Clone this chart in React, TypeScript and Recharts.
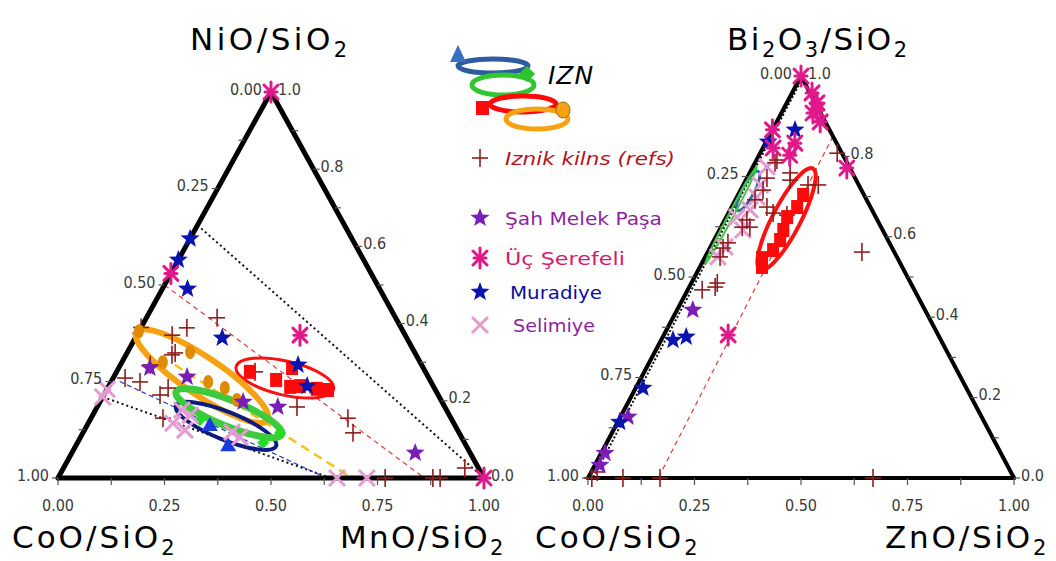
import React from "react";
import { ScatterChart, Scatter, XAxis, YAxis, ReferenceLine } from "recharts";

type T = [number, number];

// ---------- NiO / CoO / MnO triangle, points as [MnO, NiO] (CoO = 1 - both)
const nKilns: T[] = [
  [0.0, 0.39], [0.083, 0.37], [0.108, 0.389], [0.166, 0.415], [0.108, 0.319], [0.113, 0.324],
  [0.07, 0.293], [0.028, 0.259], [0.068, 0.249], [0.132, 0.215], [0.142, 0.233], [0.169, 0.155],
  [0.325, 0.275], [0.469, 0.184], [0.603, 0.155], [0.634, 0.117], [0.942, 0.026],
  [0.768, 0], [0.88, 0], [0.897, 0],
];
const nSah: T[] = [[0.073, 0.285], [0.172, 0.262], [0.336, 0.197], [0.424, 0.184], [0.806, 0.065]];
const nUc: T[] = [[0, 1], [0, 0.53], [0.383, 0.37], [1, 0]];
const nMuradiye: T[] = [[0, 0.62], [0, 0.565], [0.059, 0.49], [0.204, 0.363], [0.417, 0.293], [0.466, 0.238]];
const nSelimiye: T[] = [
  [0, 0.21], [0, 0.23], [0.199, 0.142], [0.236, 0.124], [0.203, 0.176], [0.229, 0.163],
  [0.349, 0.119], [0.374, 0.106], [0.655, 0], [0.725, 0],
];
const nIznRed: T[] = [[0.313, 0.275], [0.385, 0.254], [0.427, 0.236], [0.449, 0.238], [0.492, 0.231], [0.52, 0.228], [0.407, 0.285]];
const nIznOrange: T[] = [[0.0, 0.38], [0.096, 0.3], [0.147, 0.326], [0.228, 0.249], [0.275, 0.233], [0.319, 0.202]];
const nIznBlue: T[] = [[0.288, 0.137], [0.357, 0.085]];
const nIznGreen: T[] = [[0.258, 0.15], [0.436, 0.091], [0.463, 0.117]];
// group ellipse centres: red, orange, blue, green
const nRingCentres: T[] = [[0.403, 0.259], [0.206, 0.264], [0.327, 0.135], [0.317, 0.168]];
// trend lines: dotted, dotted, red dash, blue dash, yellow dash
const nGuides: [T, T][] = [
  [[0, 0.655], [1, 0]],
  [[0, 0.21], [0.64, 0]],
  [[0, 0.5], [0.86, 0]],
  [[0.02, 0.25], [0.63, 0]],
  [[0.128, 0.293], [0.69, 0]],
];

// ---------- Bi2O3 / CoO / ZnO triangle, points as [ZnO, Bi2O3]
const bKilns: T[] = [
  [0.047, 0.784], [0.104, 0.741], [0.176, 0.729], [0.053, 0.716], [0.083, 0.674], [0.046, 0.692],
  [0.052, 0.642], [0.05, 0.624], [0.068, 0.624], [0.036, 0.585], [0.031, 0.572], [0.061, 0.485],
  [0.034, 0.468], [0.061, 0.475], [0.14, 0.654], [0.105, 0.659], [0.095, 0.759], [0.152, 0.729],
  [0.047, 0.746], [0.035, 0.55], [0.181, 0.808], [0.362, 0.562], [0.014, 0.015], [0.048, 0.791],
  [0.009, 0], [0.082, 0], [0.169, 0], [0.669, 0],
];
const bSah: T[] = [[0.037, 0.418], [0.018, 0.152], [0.009, 0.062], [0.012, 0.032]];
const bUc: T[] = [
  [0, 1], [0.047, 0.958], [0.071, 0.933], [0.074, 0.908], [0.102, 0.886], [0.08, 0.915],
  [0, 0.866], [0.024, 0.821], [0.072, 0.803], [0.069, 0.833], [0.222, 0.771], [0.151, 0.356],
];
const bMuradiye: T[] = [[0.053, 0.866], [0.005, 0.836], [0.028, 0.343], [0.055, 0.351], [0.017, 0.224], [0.005, 0.139]];
const bSelimiye: T[] = [
  [0.025, 0.649], [0.047, 0.667], [0.055, 0.617], [0.034, 0.575], [0.03, 0.55], [0.04, 0.729],
  [0.047, 0.699], [0.033, 0.774],
];
const bIznRed: T[] = [[0.153, 0.704], [0.154, 0.674], [0.143, 0.649], [0.15, 0.617], [0.155, 0.592], [0.151, 0.567], [0.135, 0.547], [0.146, 0.525]];
// red, blue, green
const bRingCentres: T[] = [[0.144, 0.644], [0.019, 0.714], [0.009, 0.654]];
const bGuides: [T, T][] = [
  [[0.006, 0.985], [0.012, 0]],
  [[0.003, 0.99], [0.005, 0]],
  [[0.15, 0.85], [0.165, 0]],
];

// axis ticks
const edgeTicks = [0, 0.125, 0.25, 0.375, 0.5, 0.625, 0.75, 0.875, 1];
const edgeLabels = [0, 0.25, 0.5, 0.75, 1];
const sideTicks = [0, 0.1, 0.2, 0.3, 0.4, 0.5, 0.6, 0.7, 0.8, 0.9, 1];
const sideLabels = [0, 0.2, 0.4, 0.6, 0.8, 1];

const H = 561;
const TICK_FONT = "'Liberation Sans Narrow', 'DejaVu Sans Condensed', Roboto, sans-serif";
const TITLE_FONT = "'DejaVu Sans', sans-serif";

const xy = (p: T) => ({ x: p[0] + p[1] / 2, y: p[1] });

const star = (cx: number, cy: number, r: number, fill: string) => {
  let d = "";
  for (let i = 0; i < 10; i++) {
    const rr = i % 2 ? r * 0.42 : r;
    const a = -Math.PI / 2 + (i * Math.PI) / 5;
    d += `${i ? "L" : "M"}${(cx + rr * Math.cos(a)).toFixed(1)},${(cy + rr * Math.sin(a)).toFixed(1)}`;
  }
  return <path d={d + "Z"} fill={fill} />;
};

const glyphs: Record<string, (cx: number, cy: number) => React.ReactElement> = {
  kiln: (cx, cy) => (
    <g stroke="#8E1E1E" strokeWidth={1.6}>
      <line x1={cx - 8} y1={cy} x2={cx + 8} y2={cy} />
      <line x1={cx} y1={cy - 9} x2={cx} y2={cy + 9} />
    </g>
  ),
  sah: (cx, cy) => star(cx, cy, 10, "#7A1FB5"),
  mur: (cx, cy) => star(cx, cy, 10, "#0B14B0"),
  uc: (cx, cy) => (
    <g stroke="#E0198B" strokeWidth={3} strokeLinecap="round">
      <line x1={cx} y1={cy - 10} x2={cx} y2={cy + 10} />
      <line x1={cx - 7} y1={cy - 7} x2={cx + 7} y2={cy + 7} />
      <line x1={cx + 7} y1={cy - 7} x2={cx - 7} y2={cy + 7} />
      <line x1={cx - 6} y1={cy} x2={cx + 6} y2={cy} />
    </g>
  ),
  sel: (cx, cy) => (
    <g stroke="#E39BD2" strokeWidth={3}>
      <line x1={cx - 8} y1={cy - 8} x2={cx + 8} y2={cy + 8} />
      <line x1={cx + 8} y1={cy - 8} x2={cx - 8} y2={cy + 8} />
    </g>
  ),
  red: (cx, cy) => <rect x={cx - 6} y={cy - 7} width={12} height={14} fill="#FF0A0A" />,
  orange: (cx, cy) => <ellipse cx={cx} cy={cy} rx={5} ry={7} fill="#E08A00" />,
  blue: (cx, cy) => <path d={`M${cx},${cy - 8}L${cx + 8},${cy + 6}L${cx - 8},${cy + 6}Z`} fill="#1A3CE0" />,
  green: (cx, cy) => <path d={`M${cx},${cy - 6}L${cx + 6},${cy}L${cx},${cy + 6}L${cx - 6},${cy}Z`} fill="#22DD22" />,
};

type Ring = { rx: number; ry: number; angle: number; color: string; w: number };
const nRingStyles: Ring[] = [
  { rx: 50, ry: 17, angle: 13, color: "#FF1010", w: 3 },
  { rx: 79, ry: 19, angle: 34, color: "#F5A312", w: 6 },
  { rx: 54, ry: 14, angle: 22, color: "#0D1A80", w: 4 },
  { rx: 57, ry: 13, angle: 22, color: "#3DCB3D", w: 7 },
];
const bRingStyles: Ring[] = [
  { rx: 57, ry: 14, angle: -62.5, color: "#FF1010", w: 4 },
  { rx: 22, ry: 6, angle: -62, color: "#3A64A8", w: 3 },
  { rx: 55, ry: 2.5, angle: -62, color: "#3DCB3D", w: 2 },
];
type Guide = { stroke: string; width: number; dash: string };
const nGuideStyles: Guide[] = [
  { stroke: "#111", width: 2, dash: "2 3" },
  { stroke: "#111", width: 2, dash: "2 3" },
  { stroke: "#E23A3A", width: 1.2, dash: "5 4" },
  { stroke: "#2A3FBF", width: 1.2, dash: "5 3" },
  { stroke: "#F2C31B", width: 2.5, dash: "9 6" },
];
const bGuideStyles: Guide[] = [
  { stroke: "#111", width: 2, dash: "2 2" },
  { stroke: "#888", width: 1, dash: "" },
  { stroke: "#E23A3A", width: 1.2, dash: "5 4" },
];

type Frame = { left: number; width: number; x0: number; x1: number; yb: number; yt: number; edge: number };
const nFrame: Frame = { left: 0, width: 540, x0: 58, x1: 484, yb: 478, yt: 92, edge: 5 };
const bFrame: Frame = { left: 540, width: 516, x0: 48, x1: 474, yb: 478, yt: 76, edge: 4 };

type Layer = { data: T[]; kind: string };

function TernaryPanel({ frame, layers, ringCentres, ringStyles, guides, guideStyles }: {
  frame: Frame; layers: Layer[]; ringCentres: T[]; ringStyles: Ring[]; guides: [T, T][]; guideStyles: Guide[];
}) {
  const sx = frame.x1 - frame.x0;
  const sy = frame.yb - frame.yt;
  const xDomain = [-frame.x0 / sx, (frame.width - frame.x0) / sx];
  const yDomain = [(frame.yb - H) / sy, frame.yb / sy];
  const corners = [xy([0, 0]), xy([1, 0]), xy([0, 1])];
  const edges = [[corners[0], corners[1]], [corners[1], corners[2]], [corners[2], corners[0]]];

  const bottomTicks = edgeTicks.map((v) => ({ ...xy([v, 0]) }));
  const leftTicks = edgeTicks.map((v) => ({ ...xy([0, 1 - v]) }));
  const rightTicks = sideTicks.map((v) => ({ ...xy([1 - v, v]) }));
  const bottomText = edgeLabels.map((v) => ({ ...xy([v, 0]), t: v.toFixed(2) }));
  const leftText = edgeLabels.map((v) => ({ ...xy([0, 1 - v]), t: v.toFixed(2) }));
  const rightText = sideLabels.map((v) => ({ ...xy([1 - v, v]), t: v.toFixed(1) }));

  const tickShape = (dx: number, dy: number) => (p: any) => (
    <line x1={p.cx} y1={p.cy} x2={p.cx + dx} y2={p.cy + dy} stroke="#555" strokeWidth={1.2} />
  );
  const textShape = (dx: number, dy: number, anchor: string) => (p: any) => (
    <text x={p.cx + dx} y={p.cy + dy} textAnchor={anchor} dominantBaseline="central"
      fontFamily={TICK_FONT} fontSize={16} fill="#3A3A3A">{p.payload?.t}</text>
  );

  return (
    <div style={{ position: "absolute", left: frame.left, top: 0 }}>
      <ScatterChart width={frame.width} height={H} margin={{ top: 0, right: 0, bottom: 0, left: 0 }}>
        <XAxis type="number" dataKey="x" domain={xDomain} hide />
        <YAxis type="number" dataKey="y" domain={yDomain} hide />
        {guides.map((g, i) => (
          <ReferenceLine key={`g${i}`} segment={[xy(g[0]), xy(g[1])]} stroke={guideStyles[i].stroke}
            strokeWidth={guideStyles[i].width} strokeDasharray={guideStyles[i].dash} ifOverflow="visible" />
        ))}
        <Scatter data={bottomTicks} shape={tickShape(0, 7)} isAnimationActive={false} />
        <Scatter data={leftTicks} shape={tickShape(-6, 0)} isAnimationActive={false} />
        <Scatter data={rightTicks} shape={tickShape(6, 0)} isAnimationActive={false} />
        {edges.map((e, i) => (
          <ReferenceLine key={`e${i}`} segment={e} stroke="#000" strokeWidth={frame.edge}
            strokeLinecap="round" ifOverflow="visible" />
        ))}
        {ringCentres.map((c, i) => {
          const s = ringStyles[i];
          return (
            <Scatter key={`r${i}`} data={[xy(c)]} isAnimationActive={false}
              shape={(p: any) => (
                <ellipse cx={p.cx} cy={p.cy} rx={s.rx} ry={s.ry} fill="none" stroke={s.color}
                  strokeWidth={s.w} transform={`rotate(${s.angle} ${p.cx} ${p.cy})`} />
              )} />
          );
        })}
        {layers.map((l, i) => (
          <Scatter key={`l${i}`} data={l.data.map(xy)} isAnimationActive={false}
            shape={(p: any) => glyphs[l.kind](p.cx, p.cy)} />
        ))}
        <Scatter data={bottomText} shape={textShape(0, 27, "middle")} isAnimationActive={false} />
        <Scatter data={leftText} shape={textShape(-9, -3, "end")} isAnimationActive={false} />
        <Scatter data={rightText} shape={textShape(7, -3, "start")} isAnimationActive={false} />
      </ScatterChart>
    </div>
  );
}

// chemical label: alternating normal / subscript pieces
function Chem({ x, y, parts, spacing }: { x: number; y: number; parts: string[]; spacing: number }) {
  return (
    <text x={x} y={y} fontFamily={TITLE_FONT} fontSize={31} fill="#000" letterSpacing={spacing}>
      {parts.map((p, i) => {
        const sub = i % 2 === 1;
        const dy = i === 0 ? 0 : sub ? 7 : -7;
        return (
          <tspan key={i} dy={dy} fontSize={sub ? 21 : 31}>{p}</tspan>
        );
      })}
    </text>
  );
}

const legendNames = ["Iznik kilns (refs)", "Şah Melek Paşa", "Üç Şerefeli", "Muradiye", "Selimiye"];
const legendKinds = ["kiln", "sah", "uc", "mur", "sel"];
const legendColors = ["#B5121B", "#8E1FA0", "#D6196E", "#0D0D9C", "#8E1FA0"];
const legendRows = [
  { y: 158, tx: 505, len: 170, italic: true },
  { y: 218, tx: 505, len: 157, italic: false },
  { y: 258, tx: 505, len: 120, italic: false },
  { y: 292, tx: 510, len: 92, italic: false },
  { y: 325, tx: 513, len: 82, italic: false },
];

function Overlay() {
  return (
    <svg width={1056} height={H} style={{ position: "absolute", left: 0, top: 0, pointerEvents: "none" }}>
      <Chem x={190} y={50} parts={["NiO/SiO", "2"]} spacing={3.5} />
      <Chem x={727} y={50} parts={["Bi", "2", "O", "3", "/SiO", "2"]} spacing={2.5} />
      <Chem x={12} y={548} parts={["CoO/SiO", "2"]} spacing={3} />
      <Chem x={340} y={548} parts={["MnO/SiO", "2"]} spacing={2.3} />
      <Chem x={535} y={548} parts={["CoO/SiO", "2"]} spacing={3} />
      <Chem x={885} y={548} parts={["ZnO/SiO", "2"]} spacing={2.8} />

      {/* IZN group key */}
      <ellipse cx={493} cy={66} rx={35} ry={7} fill="none" stroke="#2E5C9E" strokeWidth={5} />
      <path d="M450,62 L458,45 L466,62 Z" fill="#3B6FC4" />
      <ellipse cx={503} cy={85} rx={31} ry={10} fill="none" stroke="#33C633" strokeWidth={5} />
      <path d="M527,66 L535,74 L527,82 L519,74 Z" fill="#2EC42E" />
      <ellipse cx={523} cy={104} rx={33} ry={8} fill="none" stroke="#FF0A0A" strokeWidth={5} />
      <rect x={476} y={101} width={13} height={14} fill="#FF0A0A" />
      <ellipse cx={537} cy={119} rx={31} ry={10} fill="none" stroke="#F5A312" strokeWidth={5} />
      <ellipse cx={563} cy={110} rx={7} ry={8} fill="#F5A312" stroke="#9A6A10" strokeWidth={1} />
      <text x={548} y={84} fontFamily={TITLE_FONT} fontStyle="italic" fontSize={25} letterSpacing={1}>IZN</text>

      {legendRows.map((r, i) => (
        <g key={legendNames[i]}>
          {glyphs[legendKinds[i]](480, r.y)}
          <text x={r.tx} y={r.y} dominantBaseline="central" fontFamily={TITLE_FONT} fontSize={18}
            fontStyle={r.italic ? "italic" : "normal"} fill={legendColors[i]}
            textLength={r.len} lengthAdjust="spacingAndGlyphs">{legendNames[i]}</text>
        </g>
      ))}
    </svg>
  );
}

export default function App() {
  const nLayers: Layer[] = [
    { data: nKilns, kind: "kiln" },
    { data: nIznOrange, kind: "orange" },
    { data: nIznRed, kind: "red" },
    { data: nIznBlue, kind: "blue" },
    { data: nIznGreen, kind: "green" },
    { data: nSelimiye, kind: "sel" },
    { data: nSah, kind: "sah" },
    { data: nMuradiye, kind: "mur" },
    { data: nUc, kind: "uc" },
  ];
  const bLayers: Layer[] = [
    { data: bSelimiye, kind: "sel" },
    { data: bKilns, kind: "kiln" },
    { data: bIznRed, kind: "red" },
    { data: bSah, kind: "sah" },
    { data: bMuradiye, kind: "mur" },
    { data: bUc, kind: "uc" },
  ];
  return (
    <div style={{ position: "absolute", left: 0, top: 0, width: 1056, height: H, background: "#fff", overflow: "hidden" }}>
      <TernaryPanel frame={nFrame} layers={nLayers} ringCentres={nRingCentres} ringStyles={nRingStyles}
        guides={nGuides} guideStyles={nGuideStyles} />
      <TernaryPanel frame={bFrame} layers={bLayers} ringCentres={bRingCentres} ringStyles={bRingStyles}
        guides={bGuides} guideStyles={bGuideStyles} />
      <Overlay />
    </div>
  );
}
